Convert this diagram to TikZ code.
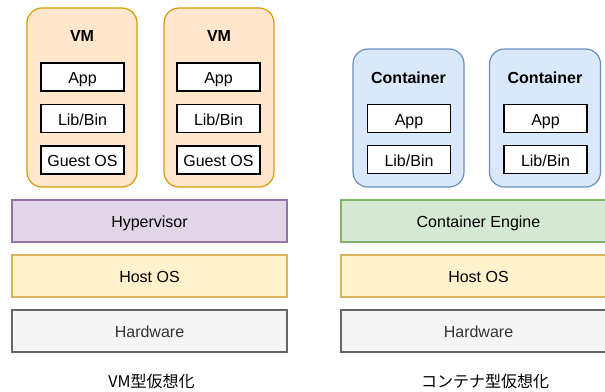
\documentclass[tikz,border=0pt]{standalone}
\usepackage{fontspec}
\setmainfont{Liberation Sans}
\newfontfamily\jpfont{Noto Sans CJK JP}
\definecolor{vmfill}{HTML}{FFE6CC}
\definecolor{vmline}{HTML}{D79B00}
\definecolor{ctfill}{HTML}{DAE8FC}
\definecolor{ctline}{HTML}{6C8EBF}
\definecolor{hvfill}{HTML}{E1D5E7}
\definecolor{hvline}{HTML}{9673A6}
\definecolor{cefill}{HTML}{D5E8D4}
\definecolor{celine}{HTML}{82B366}
\definecolor{osfill}{HTML}{FFF2CC}
\definecolor{osline}{HTML}{D6B656}
\definecolor{hwfill}{HTML}{F5F5F5}
\definecolor{hwline}{HTML}{666666}
\definecolor{hwtext}{HTML}{333333}
\begin{document}
\begin{tikzpicture}[x=1pt,y=-1pt,
  every node/.style={font=\fontsize{16}{19}\selectfont, inner sep=0pt, outer sep=0pt,
    text height=13pt, text depth=0pt},
  vmbox/.style={draw=vmline, fill=vmfill, line width=1.2pt, rounded corners=15pt,
    minimum width=110pt, minimum height=179pt},
  ctbox/.style={draw=ctline, fill=ctfill, line width=1.2pt, rounded corners=15pt,
    minimum width=111pt, minimum height=138pt},
  inner/.style={draw=black, fill=white, line width=1.2pt,
    minimum width=83pt, minimum height=28pt},
  title/.style={font=\fontsize{16}{19}\selectfont\bfseries},
  layer/.style={line width=1.2pt, minimum width=275pt, minimum height=42pt},
  caption/.style={font=\fontsize{16}{19}\selectfont\jpfont}]
\useasboundingbox (0,0) rectangle (605,391);
\clip (0,0) rectangle (605,391);

% virtual machines
\node[vmbox] (vm1) at (82,97.5) {};
\node[title] (vm1t) at (82,35) {VM};
\node[inner] (vm1a) at (82.5,77) {App};
\node[inner] (vm1l) at (82.5,118.5) {Lib/Bin};
\node[inner] (vm1g) at (82.5,160) {Guest OS};

\node[vmbox] (vm2) at (219,97.5) {};
\node[title] (vm2t) at (219,35) {VM};
\node[inner] (vm2a) at (218.5,77) {App};
\node[inner] (vm2l) at (218.5,118.5) {Lib/Bin};
\node[inner] (vm2g) at (218.5,160) {Guest OS};

% containers
\node[ctbox] (ct1) at (408.5,118) {};
\node[title] (ct1t) at (408.5,77) {Container};
\node[inner] (ct1a) at (409,118.5) {App};
\node[inner] (ct1l) at (409,159.5) {Lib/Bin};

\node[ctbox] (ct2) at (545,118) {};
\node[title] (ct2t) at (545,77) {Container};
\node[inner] (ct2a) at (545.5,118.5) {App};
\node[inner] (ct2l) at (545.5,159.5) {Lib/Bin};

% layers, VM side
\node[layer, draw=hvline, fill=hvfill] (hv) at (149.5,221) {Hypervisor};
\node[layer, draw=osline, fill=osfill] (os1) at (149.5,276) {Host OS};
\node[layer, draw=hwline, fill=hwfill, text=hwtext] (hw1) at (149.5,331) {Hardware};

% layers, container side
\node[layer, draw=celine, fill=cefill] (ce) at (478.5,221) {Container Engine};
\node[layer, draw=osline, fill=osfill] (os2) at (478.5,276) {Host OS};
\node[layer, draw=hwline, fill=hwfill, text=hwtext] (hw2) at (478.5,331) {Hardware};

% captions
\node[caption] (cap1) at (151.5,381) {VM型仮想化};
\node[caption] (cap2) at (485,381) {コンテナ型仮想化};
\end{tikzpicture}
\end{document}
